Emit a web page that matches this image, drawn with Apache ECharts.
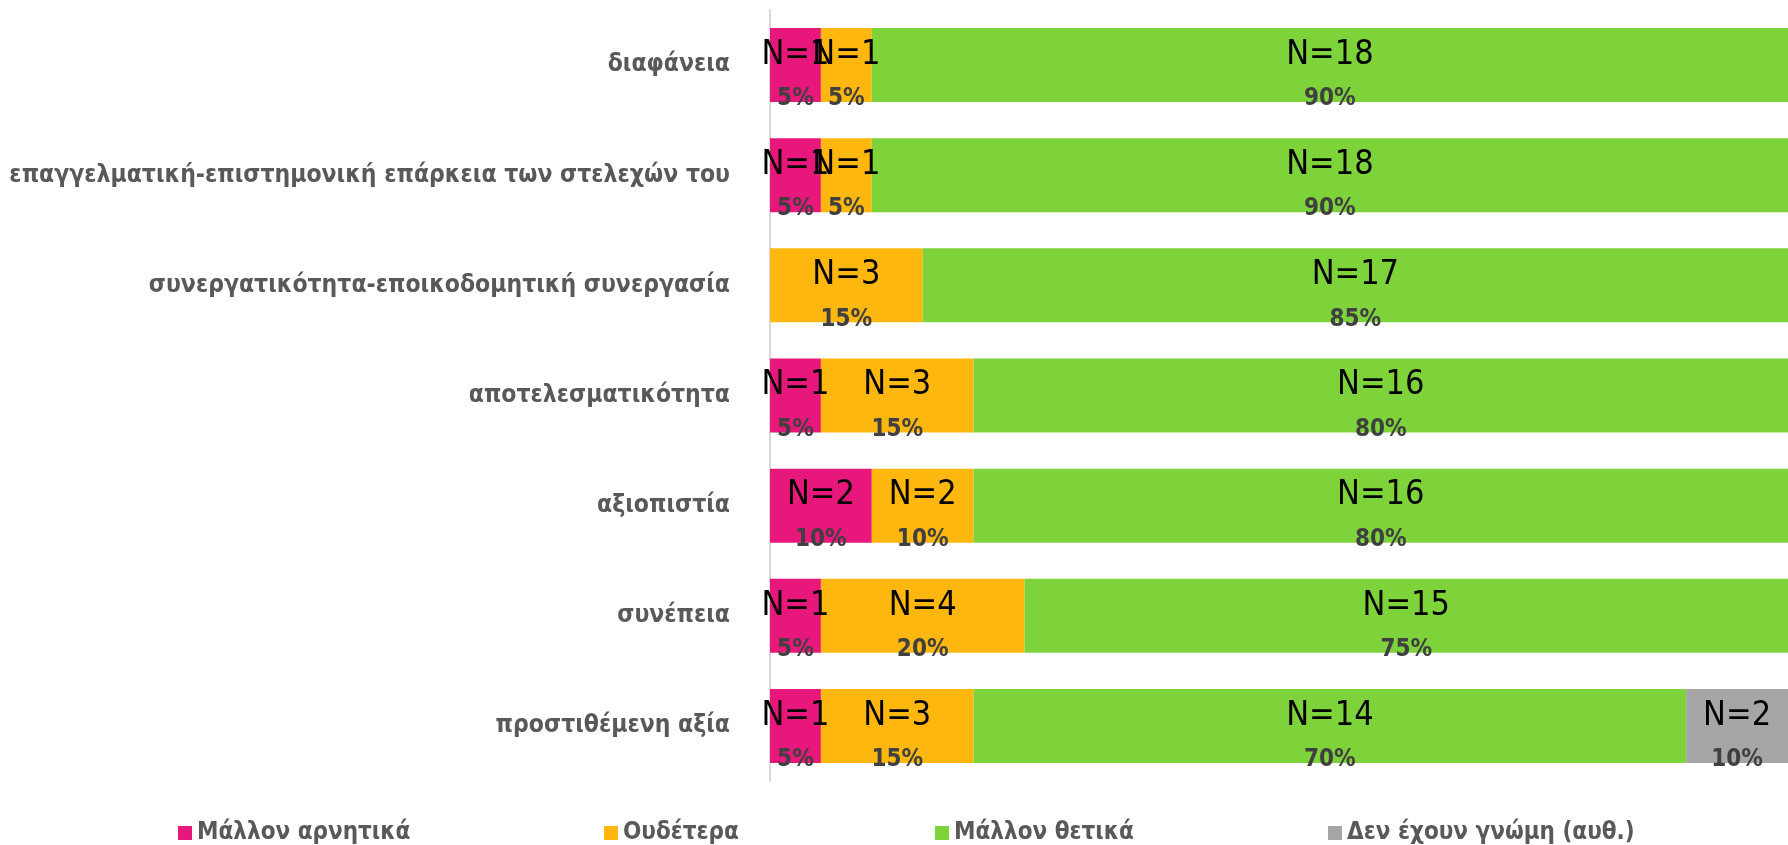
<!DOCTYPE html>
<html>
<head>
<meta charset="utf-8">
<script src="https://cdn.jsdelivr.net/npm/echarts@6/dist/echarts.min.js"></script>
<style>
html, body { margin: 0; padding: 0; background: #fff; }
#main { width: 1788px; height: 845px; }
</style>
</head>
<body>
<div id="main"></div>
<script>
// κατηγορίες (από πάνω προς τα κάτω)
var categories = [
	'διαφάνεια',
	'επαγγελματική-επιστημονική επάρκεια των στελεχών του',
	'συνεργατικότητα-εποικοδομητική συνεργασία',
	'αποτελεσματικότητα',
	'αξιοπιστία',
	'συνέπεια',
	'προστιθέμενη αξία'
];
var seriesNames = ['Μάλλον αρνητικά', 'Ουδέτερα', 'Μάλλον θετικά', 'Δεν έχουν γνώμη (αυθ.)'];

// ποσοστά %
var negativePct = [5, 5, 0, 5, 10, 5, 5];
var neutralPct = [5, 5, 15, 15, 10, 20, 15];
var positivePct = [90, 90, 85, 80, 80, 75, 70];
var noOpinionPct = [0, 0, 0, 0, 0, 0, 10];

// πλήθος απαντήσεων (N)
var negativeN = [1, 1, 0, 1, 2, 1, 1];
var neutralN = [1, 1, 3, 3, 2, 4, 3];
var positiveN = [18, 18, 17, 16, 16, 15, 14];
var noOpinionN = [0, 0, 0, 0, 0, 0, 2];

var colors = ['#e8177b', '#feb70e', '#7ed33b', '#a6a6a6'];
var FONT = '"DejaVu Sans Condensed", "DejaVu Sans", sans-serif';
// θέση (αριστερά) κάθε στοιχείου του υπομνήματος
var legendLeft = [178, 604, 935, 1328];

function make_series(name, pct, counts, color) {
	return {
		name : name,
		type : 'bar',
		stack : 'total',
		barWidth : 74,
		itemStyle : { color : color },
		label : {
			show : true,
			position : 'inside',
			offset : [0, 12],
			formatter : function(p) {
				if (!p.value) {
					return '';
				}
				return '{n|N=' + counts[p.dataIndex] + '}\n{p|' + p.value + '%}';
			},
			rich : {
				n : { fontFamily : FONT, fontSize : 34, color : '#000', lineHeight : 44 },
				p : { fontFamily : FONT, fontSize : 24, fontWeight : 'bold', color : '#404040', lineHeight : 44 }
			}
		},
		data : pct
	};
}

// ένα υπόμνημα ανά σειρά, για να μπει το καθένα στη θέση του
function get_legends() {
	var legends = [];
	seriesNames.forEach(function(item, index) {
		legends.push({
			data : [item],
			left : legendLeft[index],
			top : 821,
			padding : 0,
			icon : 'rect',
			itemWidth : 14,
			itemHeight : 14,
			itemGap : 0,
			textStyle : { fontFamily : FONT, fontSize : 24, fontWeight : 'bold', color : '#595959' }
		});
	});
	return legends;
}

var myChart = echarts.init(document.getElementById('main'));
var option = {
	animation : false,
	textStyle : { fontFamily : FONT },
	grid : {
		left : 770,
		right : 0,
		top : 10,
		bottom : 64
	},
	legend : get_legends(),
	xAxis : {
		type : 'value',
		min : 0,
		max : 100,
		show : false
	},
	yAxis : {
		type : 'category',
		inverse : true,
		data : categories,
		axisLine : { show : true, lineStyle : { color : '#d9d9d9', width : 2 } },
		axisTick : { show : false },
		axisLabel : {
			margin : 40,
			fontFamily : FONT,
			fontSize : 24.5,
			fontWeight : 'bold',
			color : '#595959'
		}
	},
	series : [
		make_series(seriesNames[0], negativePct, negativeN, colors[0]),
		make_series(seriesNames[1], neutralPct, neutralN, colors[1]),
		make_series(seriesNames[2], positivePct, positiveN, colors[2]),
		make_series(seriesNames[3], noOpinionPct, noOpinionN, colors[3])
	]
};
myChart.setOption(option);
</script>
</body>
</html>
